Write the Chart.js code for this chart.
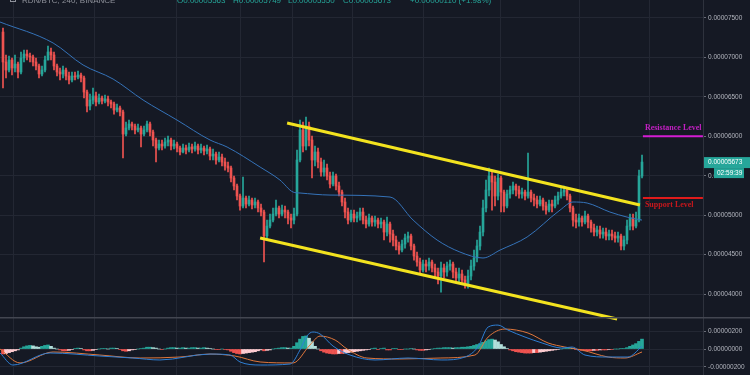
<!DOCTYPE html>
<html>
<head>
<meta charset="utf-8">
<script src="https://cdn.jsdelivr.net/npm/chart.js@4.4.0/dist/chart.umd.min.js"></script>
<style>
  body { margin: 0; background: #151924; width: 750px; height: 375px; overflow: hidden; position: relative; }
  #mainBox { position: absolute; left: 0; top: 0; width: 750px; height: 322px; }
  #macdBox { position: absolute; left: 0; top: 317px; width: 750px; height: 58px; }
</style>
</head>
<body>
<div id="mainBox"><canvas id="mainCanvas" width="750" height="322"></canvas></div>
<div id="macdBox"><canvas id="macdCanvas" width="750" height="58"></canvas></div>
<script>
// prices are in units of 0.00000001 BTC, one candle per index
const firstOpen = 7322;
const closes = [
  6942, 6840, 6967, 6866, 6916, 6815, 6993, 7043, 7018, 7005,
  6942, 6891, 6790, 6840, 6967, 7069, 7031, 6891, 6815, 6790,
  6840, 6764, 6714, 6764, 6752, 6777, 6739, 6561, 6384, 6460,
  6511, 6435, 6485, 6447, 6473, 6435, 6409, 6333, 6359, 6308,
  6029, 6105, 6156, 6130, 6080, 6105, 6029, 6080, 6156, 6054,
  5953, 5851, 5902, 5877, 5927, 5953, 5877, 5902, 5851, 5801,
  5851, 5826, 5864, 5839, 5877, 5826, 5851, 5813, 5839, 5750,
  5775, 5699, 5737, 5674, 5623, 5598, 5471, 5370, 5243, 5116,
  5217, 5141, 5192, 5129, 5167, 5091, 5040, 4736, 4862, 4938,
  5014, 5091, 5014, 5065, 5040, 4964, 4938, 5014, 5699, 6080,
  5877, 6130, 5953, 5699, 5801, 5674, 5547, 5598, 5496, 5395,
  5496, 5370, 5293, 5167, 5040, 4938, 5014, 4964, 4989, 5040,
  4938, 4888, 4964, 4913, 4938, 4888, 4913, 4786, 4888, 4761,
  4685, 4609, 4558, 4634, 4710, 4736, 4609, 4482, 4406, 4304,
  4380, 4355, 4406, 4330, 4279, 4228, 4330, 4279, 4355, 4380,
  4279, 4203, 4254, 4178, 4127, 4228, 4355, 4457, 4609, 4786,
  5091, 5319, 5496, 5420, 5243, 5471, 5293, 5116, 5268, 5319,
  5370, 5319, 5268, 5293, 5243, 5293, 5217, 5192, 5141, 5192,
  5116, 5065, 5141, 5116, 5192, 5243, 5293, 5319, 5243, 5091,
  4938, 4913, 4964, 4913, 4989, 4913, 4837, 4786, 4812, 4761,
  4786, 4736, 4761, 4736, 4710, 4736, 4609, 4685, 4862, 4964,
  4862, 4938, 5496, 5673
];
const highs = [
  7373, 7031, 7018, 6993, 7031, 6942, 7069, 7094, 7094, 7056,
  7031, 6993, 6916, 6891, 7018, 7145, 7119, 7069, 6916, 6866,
  6891, 6866, 6815, 6815, 6815, 6828, 6802, 6764, 6587, 6536,
  6612, 6561, 6536, 6511, 6523, 6511, 6460, 6435, 6409, 6384,
  6333, 6181, 6206, 6181, 6156, 6156, 6130, 6130, 6194, 6181,
  6080, 5978, 5953, 5953, 5978, 6004, 5978, 5953, 5927, 5877,
  5902, 5889, 5915, 5902, 5927, 5902, 5902, 5877, 5889, 5864,
  5839, 5801, 5801, 5775, 5725, 5674, 5623, 5496, 5395, 5268,
  5484, 5243, 5243, 5217, 5217, 5192, 5141, 5065, 4938, 5014,
  5091, 5192, 5116, 5129, 5116, 5065, 5014, 5091, 5826, 6206,
  6181, 6244, 6181, 6004, 5877, 5851, 5725, 5699, 5648, 5547,
  5547, 5522, 5420, 5319, 5217, 5091, 5065, 5065, 5040, 5091,
  5091, 4989, 5014, 4989, 4989, 4964, 4964, 4938, 4976, 4913,
  4812, 4736, 4659, 4685, 4761, 4786, 4761, 4634, 4533, 4457,
  4431, 4431, 4457, 4431, 4380, 4330, 4406, 4380, 4406, 4431,
  4406, 4330, 4330, 4304, 4228, 4304, 4431, 4558, 4685, 4862,
  5192, 5446, 5598, 5547, 5496, 5522, 5496, 5319, 5319, 5370,
  5420, 5395, 5370, 5344, 5319, 5788, 5319, 5268, 5243, 5243,
  5217, 5167, 5192, 5192, 5243, 5293, 5344, 5370, 5344, 5268,
  5116, 5014, 5014, 4989, 5053, 5014, 4938, 4888, 4862, 4862,
  4837, 4837, 4812, 4812, 4786, 4786, 4761, 4736, 4938, 5014,
  5014, 5040, 5572, 5763
];
const lows = [
  6612, 6739, 6815, 6777, 6815, 6739, 6790, 6942, 6967, 6942,
  6891, 6840, 6739, 6764, 6815, 6967, 6967, 6840, 6764, 6714,
  6739, 6714, 6663, 6688, 6714, 6726, 6688, 6485, 6308, 6333,
  6409, 6384, 6409, 6409, 6422, 6384, 6359, 6282, 6308, 6257,
  5725, 6004, 6080, 6080, 6029, 6054, 5864, 6004, 6054, 6004,
  5877, 5674, 5826, 5826, 5851, 5877, 5826, 5839, 5801, 5763,
  5788, 5775, 5801, 5788, 5813, 5775, 5788, 5763, 5775, 5699,
  5699, 5648, 5674, 5623, 5572, 5547, 5420, 5319, 5192, 5065,
  5091, 5091, 5116, 5078, 5091, 5040, 4989, 4406, 4710, 4837,
  4913, 4989, 4964, 4989, 4964, 4888, 4837, 4888, 4989, 5674,
  5801, 5826, 5877, 5471, 5623, 5598, 5496, 5496, 5446, 5344,
  5370, 5319, 5243, 5116, 4964, 4888, 4913, 4913, 4913, 4938,
  4888, 4837, 4862, 4862, 4862, 4837, 4837, 4685, 4736, 4659,
  4609, 4558, 4507, 4533, 4583, 4659, 4558, 4431, 4355, 4254,
  4279, 4279, 4304, 4279, 4203, 4127, 4025, 4203, 4228, 4304,
  4203, 4152, 4152, 4127, 4076, 4076, 4178, 4304, 4406, 4558,
  4736, 5040, 5243, 5065, 5116, 5192, 5040, 5040, 5091, 5217,
  5268, 5243, 5217, 5217, 5192, 5217, 5167, 5116, 5091, 5116,
  5065, 5014, 5040, 5040, 5091, 5141, 5217, 5243, 5192, 5040,
  4862, 4837, 4862, 4862, 4888, 4837, 4786, 4736, 4736, 4710,
  4710, 4685, 4685, 4685, 4659, 4659, 4558, 4558, 4634, 4812,
  4812, 4837, 4913, 5471
];

// moving average, read at a few candle positions
const maIdx = [-1, 16.7, 26.7, 36.7, 46.7, 58, 69, 74.7, 85.7, 92.3, 96.7, 99, 109, 129, 136.7, 144.7, 152.3, 160, 165.7, 174.7, 185.7, 190, 194.7, 202.3, 208, 213];
const maVal = [7449, 7183, 6904, 6726, 6460, 6206, 5953, 5864, 5610, 5446, 5293, 5281, 5255, 5230, 4938, 4685, 4533, 4457, 4558, 4723, 5065, 5167, 5154, 5040, 4976, 4938];

// drawn channel and levels
const upperIdx = [94.7, 212.3];
const upperVal = [6168, 5129];
const lowerIdx = [85.7, 204.7];
const lowerVal = [4710, 3683];
const levelIdx = [213.3, 233.3];
const resistance = 6000;
const support = 5217;

// MACD pane (same units)
const macdIdx = [-1, 3.3, 15.7, 32.3, 43.3, 52.3, 69, 75.7, 79, 85.7, 95.7, 99, 101.3, 103.3, 105.7, 110, 115.7, 124, 135, 146.3, 154, 158.3, 161.7, 165, 168.3, 174, 179.7, 186.3, 189.7, 194, 201.7, 208.3, 213];
const macdVal = [-44, -178, -44, -78, -100, -122, -56, -67, -144, -178, -167, -11, 144, 189, 167, 33, -67, -122, -100, -122, -89, 22, 244, 266, 211, 133, 67, 11, 22, -67, -89, -89, 30];
const sigIdx = [-1, 5.7, 16.7, 32.3, 45.7, 59, 69, 77.3, 85.7, 96.7, 102.3, 105.7, 110.7, 114.7, 121.3, 132.3, 145.7, 157.3, 161.7, 167.3, 175, 181.7, 187.3, 193, 201.7, 207.3, 213];
const sigVal = [0, -155, -33, -67, -100, -89, -56, -78, -144, -155, 44, 144, 100, 0, -100, -111, -100, -67, 133, 222, 178, 67, 22, -11, -89, -100, -33];
const hist = [
  -55, -50, -40, -30, -20, -10,
  10, 25, 35, 40, 35, 25, 20, 30, 40, 45, 30,
  10, 0, -10,
  -20, -20, -15, -5,
  5, 10,
  5, -10, -20,
  -20, -15, -5,
  0, 5, 5, 0,
  10, 10, 5,
  -5, -20, -25, -20, -10,
  -5, 0, 5, 10,
  20, 20, 15, 10,
  0, -5, 0,
  10, 15, 15, 10, 10, 15, 10, 10, 15, 15, 10, 10, 15, 10,
  5, 0, -5, -5, 0, -5, -10,
  -25, -40, -50, -55, -50, -45, -40, -35, -30, -20,
  -10, -20, -15, -10,
  0, 5, 10, 15, 15, 10, 10,
  30, 70, 110, 140, 145, 120, 80,
  30, 0,
  -20, -35, -45, -50, -55, -55, -50, -50, -45, -40, -35, -30, -25, -20, -15,
  -10, -5, 5, 10, -5, 5, 10, -10, -10, 5, 5, -5, -5, 0,
  0, 5, 0, -10, -15, -15, -10, -5, 0,
  5, 10, 10, 15, 15, 15, 10, 15, 15, 20, 20, 25, 30,
  40, 50, 60, 75, 90, 105, 110, 100,
  80, 50, 25, 5,
  -10, -20, -30, -35, -40, -45, -45, -45, -40, -40, -35, -30, -25, -20, -15, -10, -5, 0,
  5, 10, 10, 5,
  -5, -10, -15, -20, -20, -20, -15, -15, -10, -10, -10, -5,
  -5, 0, 0, 5, 5,
  15, 30, 45, 60, 85, 110
];

// axes
const timeTicks = [17, 44.3, 71.3, 86.7, 106.3, 126.7, 153.3, 178.3, 206, 225];
const priceTicks = [4000, 4500, 5000, 5500, 6000, 6500, 7000, 7500];
const macdTicks = [-200, 0, 200];
const headerName = 'RDN/BTC, 240, BINANCE';
const headerValues = ['O0.00005563', 'H0.00005749', 'L0.00005550', 'C0.00005673', '+0.00000110 (+1.98%)'];
const headerX = [177, 233, 288, 343, 410];
const countdown = '02:59:39';

const upColor = '#26a69a';
const downColor = '#ef5350';
const gridColor = '#232733';
const textColor = '#b2b5be';
const fontFamily = '"Liberation Sans", Arial, sans-serif';

const fmt = v => (v / 1e8).toFixed(8);
const pts = (xs, ys) => xs.map((x, i) => ({ x: x, y: ys[i] }));

const opens = closes.map((c, i) => i === 0 ? firstOpen : closes[i - 1]);
const candleColors = closes.map((c, i) => c >= opens[i] ? upColor : downColor);
const wickData = closes.map((c, i) => ({ x: i, y: [Math.min(lows[i], opens[i], c), Math.max(highs[i], opens[i], c)] }));
const bodyData = closes.map((c, i) => ({ x: i, y: [opens[i], c] }));

const histColors = hist.map((v, i) => {
  const prev = i ? hist[i - 1] : 0;
  if (v >= 0) return v >= prev ? '#26a69a' : '#b2dfdb';
  return v <= prev ? '#ef5350' : '#ffcdd2';
});

function xScale() {
  return {
    type: 'linear', min: -1, max: 233.33, offset: false,
    afterBuildTicks: s => { s.ticks = timeTicks.map(v => ({ value: v })); },
    afterFit: s => { s.height = 0; s.paddingLeft = 0; s.paddingRight = 0; },
    ticks: { display: false },
    grid: { color: gridColor, drawTicks: false },
    border: { display: false }
  };
}

function yScale(min, max, list) {
  return {
    position: 'right', min: min, max: max,
    afterBuildTicks: s => { s.ticks = list.map(v => ({ value: v })); },
    afterFit: s => { s.width = 47; s.paddingTop = 0; s.paddingBottom = 0; },
    ticks: { callback: fmt, color: textColor, font: { family: fontFamily, size: 6.5 }, padding: 2, autoSkip: false },
    grid: { color: gridColor, tickLength: 3, tickColor: '#6a6d78' },
    border: { color: '#2e323d' }
  };
}

// labels, header and last price tag
const overlay = {
  id: 'overlay',
  afterDraw(chart) {
    const { ctx, chartArea } = chart;
    const x = chart.scales.x, y = chart.scales.y;
    ctx.save();
    ctx.textBaseline = 'alphabetic';
    ctx.font = '8px ' + fontFamily;
    ctx.strokeStyle = '#8f929b';
    ctx.strokeRect(10.5, -3.5, 5, 5);
    ctx.fillStyle = '#8f929b';
    ctx.fillText(headerName, 22, 2.5);
    ctx.fillStyle = upColor;
    headerValues.forEach((t, i) => ctx.fillText(t, headerX[i], 2.5));

    ctx.textBaseline = 'middle';
    ctx.font = 'bold 8px "Liberation Serif", serif';
    const lx = x.getPixelForValue(levelIdx[0]) + 2;
    ctx.fillStyle = '#c41fc4';
    ctx.fillText('Resistance Level', lx, y.getPixelForValue(resistance) - 8);
    ctx.fillStyle = '#c8171c';
    ctx.fillText('Support Level', lx, y.getPixelForValue(support) + 7);

    const last = closes[closes.length - 1];
    const py = y.getPixelForValue(last);
    const ax = chartArea.right;
    ctx.fillStyle = upColor;
    ctx.fillRect(ax + 1, py - 5, 47, 11);
    ctx.fillRect(ax + 11, py + 6, 30, 10);
    ctx.fillStyle = '#ffffff';
    ctx.font = '6.5px ' + fontFamily;
    ctx.fillText(fmt(last), ax + 5, py + 0.5);
    ctx.fillText(countdown, ax + 14, py + 11.5);
    ctx.restore();
  }
};

new Chart(document.getElementById('mainCanvas'), {
  type: 'bar',
  data: {
    datasets: [
      { type: 'bar', data: wickData, backgroundColor: candleColors, barThickness: 1, grouped: false, order: 5 },
      { type: 'bar', data: bodyData, backgroundColor: candleColors, barThickness: 2, grouped: false, minBarLength: 1, order: 4 },
      { type: 'line', data: pts(maIdx, maVal), borderColor: '#3573b9', borderWidth: 1, pointRadius: 0, cubicInterpolationMode: 'monotone', order: 3 },
      { type: 'line', data: pts(upperIdx, upperVal), borderColor: '#f3e31f', borderWidth: 3, pointRadius: 0, order: 1 },
      { type: 'line', data: pts(lowerIdx, lowerVal), borderColor: '#f3e31f', borderWidth: 3, pointRadius: 0, clip: false, order: 1 },
      { type: 'line', data: pts(levelIdx, [resistance, resistance]), borderColor: '#d41dd4', borderWidth: 2, pointRadius: 0, order: 2 },
      { type: 'line', data: pts(levelIdx, [support, support]), borderColor: '#e01b1b', borderWidth: 2, pointRadius: 0, order: 2 }
    ]
  },
  options: {
    responsive: false, animation: false, events: [],
    layout: { padding: { top: 0, left: 0, right: 0, bottom: 5 } },
    plugins: { legend: { display: false }, tooltip: { enabled: false } },
    scales: { x: xScale(), y: yScale(3709, 7728, priceTicks) }
  },
  plugins: [overlay]
});

// separator between the panes
const paneLine = {
  id: 'paneLine',
  afterDraw(chart) {
    const ctx = chart.ctx;
    ctx.save();
    ctx.strokeStyle = '#434651';
    ctx.lineWidth = 1.5;
    ctx.beginPath();
    ctx.moveTo(0, 0.75);
    ctx.lineTo(chart.width, 0.75);
    ctx.stroke();
    ctx.restore();
  }
};

new Chart(document.getElementById('macdCanvas'), {
  type: 'bar',
  data: {
    datasets: [
      { type: 'line', data: pts(macdIdx, macdVal), borderColor: '#2f7fd4', borderWidth: 1, pointRadius: 0, cubicInterpolationMode: 'monotone', order: 1 },
      { type: 'line', data: pts(sigIdx, sigVal), borderColor: '#e0773c', borderWidth: 1, pointRadius: 0, cubicInterpolationMode: 'monotone', order: 2 },
      { type: 'bar', data: hist.map((v, i) => ({ x: i, y: v })), backgroundColor: histColors, barThickness: 3, grouped: false, order: 3 }
    ]
  },
  options: {
    responsive: false, animation: false, events: [],
    layout: { padding: 0 },
    plugins: { legend: { display: false }, tooltip: { enabled: false } },
    scales: { x: xScale(), y: yScale(-289, 356, macdTicks) }
  },
  plugins: [paneLine]
});
</script>
</body>
</html>
